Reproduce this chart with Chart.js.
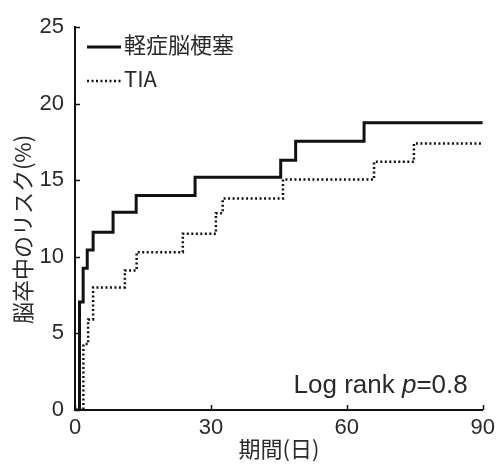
<!DOCTYPE html>
<html>
<head>
<meta charset="utf-8">
<script src="https://cdn.jsdelivr.net/npm/chart.js@4.4.1/dist/chart.umd.min.js"></script>
<style>
  body { margin: 0; background: #fff; }
</style>
</head>
<body>
<canvas id="grafico" width="500" height="465"></canvas>
<script>
// Dados (dias, risco %)
const diasLeve = [0, 1.0, 1.8, 2.7, 4.0, 8.4, 13.5, 26.5, 45.4, 48.7, 63.8, 90];
const riscoLeve = [0, 7.05, 9.25, 10.45, 11.6, 12.9, 14.0, 15.2, 16.3, 17.55, 18.75, 18.75];
const diasTIA = [0, 1.85, 2.9, 4.0, 11.0, 13.6, 23.8, 31.1, 32.6, 45.9, 66.0, 74.8, 90];
const riscoTIA = [0, 4.3, 5.9, 8.0, 9.1, 10.3, 11.5, 12.85, 13.8, 15.05, 16.2, 17.4, 17.4];
const nomesSeries = ['軽症脳梗塞', 'TIA'];
const ticksX = [0, 30, 60, 90];
const ticksY = [0, 5, 10, 15, 20, 25];
const tituloX = '期間(日)';
const tituloY = '脳卒中のリスク(%)　';

const fonteNum = '"Liberation Sans", Arial, sans-serif';
const fonteJp = '"Noto Sans CJK JP", "Liberation Sans", sans-serif';
const corTexto = '#2a2a2a';

const pontos = (xs, ys) => xs.map((x, i) => ({ x: x, y: ys[i] }));

// Legenda e texto do log rank desenhados dentro da área do gráfico
const extras = {
    id: 'extras',
    afterDraw(chart) {
        const ctx = chart.ctx;
        const area = chart.chartArea;
        const sx = chart.scales.x;
        const sy = chart.scales.y;
        ctx.save();

        // marcas dos eixos para dentro
        ctx.strokeStyle = '#111';
        ctx.lineWidth = 1.5;
        ticksY.forEach(v => {
            const y = Math.round(sy.getPixelForValue(v)) + 0.5;
            ctx.beginPath();
            ctx.moveTo(area.left, y);
            ctx.lineTo(area.left + 5, y);
            ctx.stroke();
        });
        ticksX.forEach(v => {
            const x = Math.round(sx.getPixelForValue(v)) + 0.5;
            ctx.beginPath();
            ctx.moveTo(x, area.bottom);
            ctx.lineTo(x, area.bottom - 5);
            ctx.stroke();
        });

        // legenda
        chart.data.datasets.forEach((ds, i) => {
            const y = area.top + 20 + i * 34;
            ctx.strokeStyle = ds.borderColor;
            ctx.lineWidth = ds.borderWidth;
            ctx.setLineDash(ds.borderDash || []);
            ctx.beginPath();
            ctx.moveTo(area.left + 12, y);
            ctx.lineTo(area.left + 46, y);
            ctx.stroke();
            ctx.setLineDash([]);
            ctx.fillStyle = corTexto;
            ctx.font = '22px ' + fonteJp;
            ctx.textBaseline = 'middle';
            ctx.textAlign = 'left';
            ctx.fillText(nomesSeries[i], area.left + 49, y - 2);
        });

        // Log rank p=0.8
        const partes = [
            { t: 'Log rank ', f: '26px ' + fonteNum },
            { t: 'p', f: 'italic 26px ' + fonteNum },
            { t: '=0.8', f: '26px ' + fonteNum }
        ];
        let larg = 0;
        partes.forEach(p => { ctx.font = p.f; larg += ctx.measureText(p.t).width; });
        let x = area.right - 15 - larg;
        const yBase = area.bottom - 17;
        ctx.textBaseline = 'alphabetic';
        ctx.fillStyle = corTexto;
        partes.forEach(p => {
            ctx.font = p.f;
            ctx.fillText(p.t, x, yBase);
            x += ctx.measureText(p.t).width;
        });
        ctx.restore();
    }
};

const ctx = document.getElementById('grafico').getContext('2d');
new Chart(ctx, {
    type: 'line',
    data: {
        datasets: [{
            label: nomesSeries[0],
            data: pontos(diasLeve, riscoLeve),
            stepped: 'before',
            borderColor: '#111',
            borderWidth: 3,
            pointRadius: 0,
            fill: false
        }, {
            label: nomesSeries[1],
            data: pontos(diasTIA, riscoTIA),
            stepped: 'before',
            borderColor: '#111',
            borderWidth: 2.5,
            borderDash: [2, 2.5],
            pointRadius: 0,
            fill: false
        }]
    },
    options: {
        responsive: false,
        animation: false,
        devicePixelRatio: 1,
        layout: { padding: { top: 27, right: 15, left: 0, bottom: 0 } },
        plugins: {
            legend: { display: false },
            tooltip: { enabled: false }
        },
        scales: {
            x: {
                type: 'linear',
                min: 0,
                max: 90,
                afterBuildTicks: (scale) => { scale.ticks = ticksX.map(v => ({ value: v })); },
                afterFit: (scale) => { scale.height = 55; },
                grid: { drawOnChartArea: false, drawTicks: false },
                border: { color: '#111', width: 2 },
                ticks: { color: corTexto, padding: 5, font: { family: fonteNum, size: 22 } },
                title: {
                    display: true,
                    text: tituloX,
                    color: corTexto,
                    padding: { top: 0, bottom: 3 },
                    font: { family: fonteJp, size: 22 }
                }
            },
            y: {
                min: 0,
                max: 25,
                afterBuildTicks: (scale) => { scale.ticks = ticksY.map(v => ({ value: v })); },
                afterFit: (scale) => { scale.width = 75; },
                grid: { drawOnChartArea: false, drawTicks: false },
                border: { color: '#111', width: 2 },
                ticks: { color: corTexto, padding: 11, font: { family: fonteNum, size: 22 } },
                title: {
                    display: true,
                    text: tituloY,
                    color: corTexto,
                    padding: { top: 9, bottom: 0 },
                    font: { family: fonteJp, size: 22 }
                }
            }
        }
    },
    plugins: [extras]
});
</script>
</body>
</html>
